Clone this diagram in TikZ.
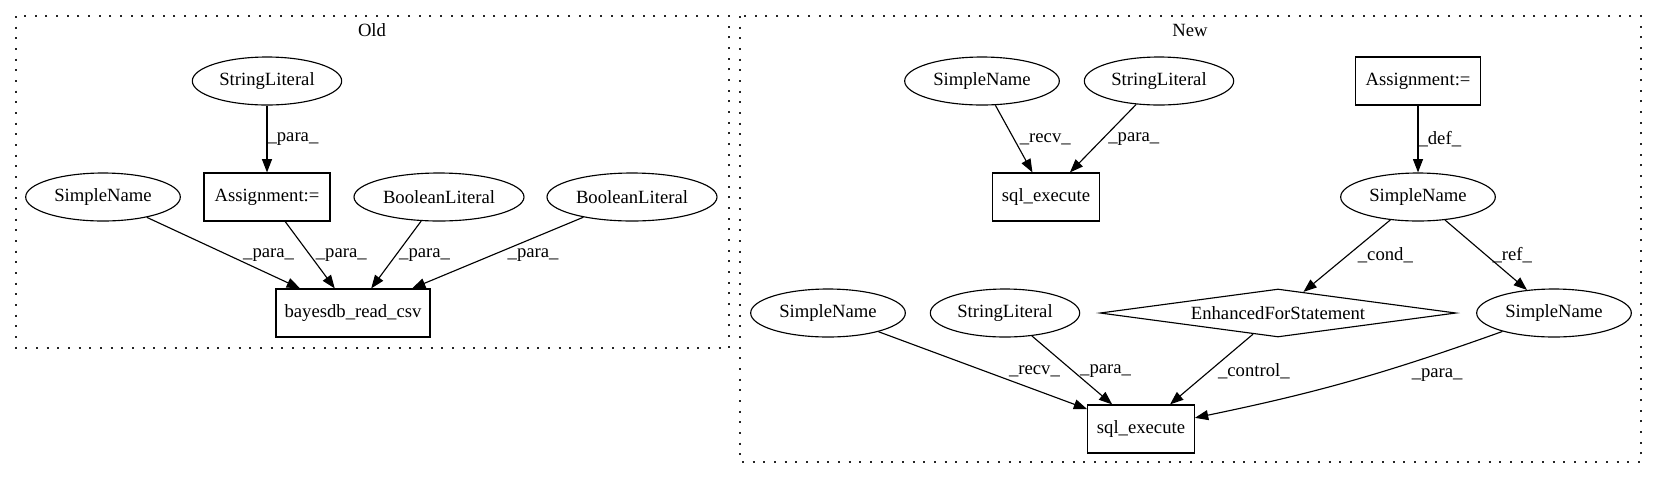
\documentclass[tikz,border=0pt]{standalone}
\usepackage{fontspec}
\setmainfont{Liberation Serif}
\usetikzlibrary{shapes.geometric,arrows.meta,calc}

\begin{document}
\begin{tikzpicture}[x=0.75pt,y=-0.75pt,
        font=\fontsize{14}{16}\selectfont,
        lit/.style = {ellipse, draw, line width=0.85pt, inner sep=1pt, minimum height=36pt},
        op/.style = {rectangle, draw, line width=0.85pt, inner sep=1pt, minimum height=36pt},
        ctrl/.style = {diamond, draw, line width=0.85pt, inner sep=0pt, aspect=7.5,
            minimum width=267pt, minimum height=36pt},
        flow/.style = {-{Triangle[length=10pt,width=7.5pt]}, line width=0.85pt},
        lbl/.style = {anchor=west, inner sep=0pt},
        frame/.style = {line width=1.3pt, dash pattern=on 1.5pt off 6.5pt, black!85}]
    \useasboundingbox (0,0) rectangle (1657,480);

    % Old
    \draw[frame] (16,16) rectangle (729,348);
    \node (old) at (372,30) {Old};
    \node[lit, minimum width=112pt] (osl) at (267,81) {StringLiteral};
    \node[lit, minimum width=116pt] (osn) at (103,197) {SimpleName};
    \node[op, minimum width=94.5pt] (oasg) at (267,197) {Assignment:=};
    \node[lit, minimum width=127.5pt] (obl1) at (439,197) {BooleanLiteral};
    \node[lit, minimum width=127.5pt] (obl2) at (632,197) {BooleanLiteral};
    \node[op, minimum width=115.5pt] (bayes) at (353,313) {bayesdb\_read\_csv};

    \draw[flow] (osl) -- (oasg) node[lbl] at ($(osl)!.5!(oasg)$) {\_para\_};
    \draw[flow] (osn) -- (bayes) node[lbl, xshift=11pt] at ($(osn)!.5!(bayes)$) {\_para\_};
    \draw[flow] (oasg) -- (bayes) node[lbl, xshift=4pt] at ($(oasg)!.5!(bayes)$) {\_para\_};
    \draw[flow] (obl1) -- (bayes) node[lbl, xshift=2pt] at ($(obl1)!.5!(bayes)$) {\_para\_};
    \draw[flow] (obl2) -- (bayes) node[lbl, xshift=11pt] at ($(obl2)!.5!(bayes)$) {\_para\_};

    % New
    \draw[frame] (740,16) rectangle (1641,462);
    \node (new) at (1190,30) {New};
    \node[lit, minimum width=116pt] (nsn) at (982,81) {SimpleName};
    \node[lit, minimum width=112pt] (nsl) at (1159,81) {StringLiteral};
    \node[op, minimum width=94pt] (nasg) at (1418,81) {Assignment:=};
    \node[op, minimum width=80pt] (sqla) at (1046,197) {sql\_execute};
    \node[lit, minimum width=116pt] (nvar) at (1418,197) {SimpleName};
    \node[lit, minimum width=116pt] (rsn) at (828,313) {SimpleName};
    \node[lit, minimum width=112pt] (rsl) at (1005,313) {StringLiteral};
    \node[ctrl] (efor) at (1278,313) {EnhancedForStatement};
    \node[lit, minimum width=116pt] (vsn) at (1554,313) {SimpleName};
    \node[op, minimum width=80pt] (sqlb) at (1141,429) {sql\_execute};

    \draw[flow] (nsn) -- (sqla) node[lbl, xshift=4pt] at ($(nsn)!.5!(sqla)$) {\_recv\_};
    \draw[flow] (nsl) -- (sqla) node[lbl, xshift=4pt] at ($(nsl)!.5!(sqla)$) {\_para\_};
    \draw[flow] (nasg) -- (nvar) node[lbl] at ($(nasg)!.5!(nvar)$) {\_def\_};
    \draw[flow] (nvar) -- (efor) node[lbl, xshift=7pt] at ($(nvar)!.5!(efor)$) {\_cond\_};
    \draw[flow] (nvar) -- (vsn) node[lbl, xshift=4.5pt] at ($(nvar)!.5!(vsn)$) {\_ref\_};
    \draw[flow] (rsn) -- (sqlb) node[lbl, xshift=18pt] at ($(rsn)!.5!(sqlb)$) {\_recv\_};
    \draw[flow] (rsl) -- (sqlb) node[lbl, xshift=5pt] at ($(rsl)!.5!(sqlb)$) {\_para\_};
    \draw[flow] (efor) -- (sqlb) node[lbl, xshift=6pt] at ($(efor)!.5!(sqlb)$) {\_control\_};
    \draw[flow] (vsn) to[bend left=4] (sqlb);
    \node[lbl, xshift=48pt, yshift=-3pt] (vlbl) at ($(vsn)!.5!(sqlb)$) {\_para\_};
\end{tikzpicture}
\end{document}
